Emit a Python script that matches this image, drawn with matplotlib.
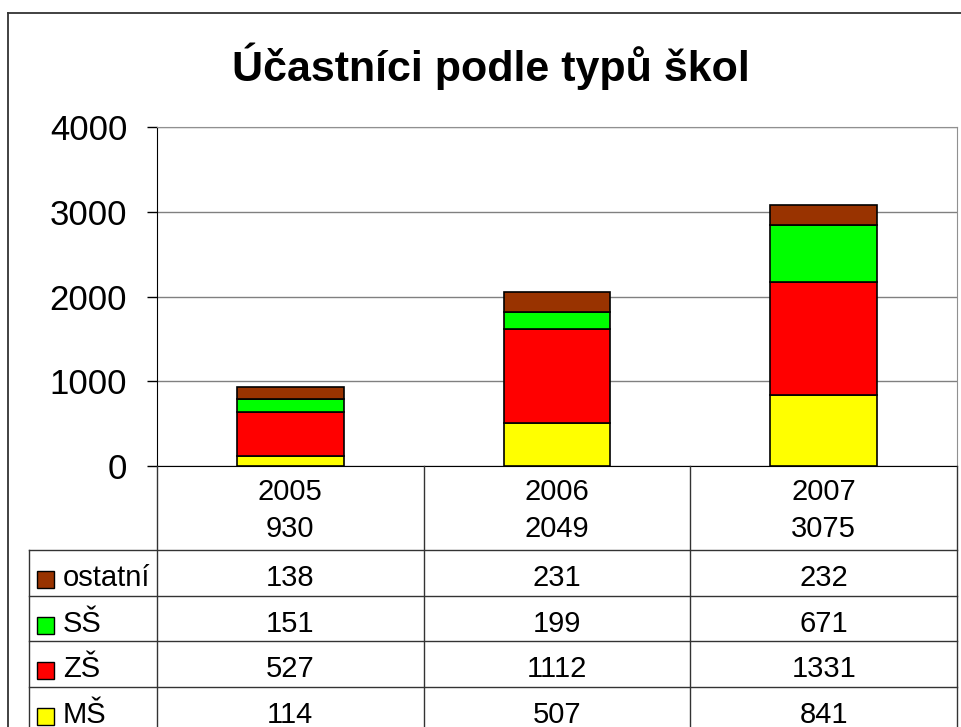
import numpy as np
import matplotlib.pyplot as plt
from matplotlib.patches import Rectangle

plt.rcParams['font.family'] = ['Liberation Sans', 'DejaVu Sans']

# data
years = ['2005', '2006', '2007']
series = ['ostatní', 'SŠ', 'ZŠ', 'MŠ']
ostatni = [138, 231, 232]
ss = [151, 199, 671]
zs = [527, 1112, 1331]
ms = [114, 507, 841]
colors = {'ostatní': '#993300', 'SŠ': '#00ff00', 'ZŠ': '#ff0000', 'MŠ': '#ffff00'}
values = {'ostatní': ostatni, 'SŠ': ss, 'ZŠ': zs, 'MŠ': ms}
totals = np.sum([ostatni, ss, zs, ms], axis=0)

W, H = 961, 727
fig = plt.figure(figsize=(W / 100, H / 100), dpi=100)

# plot area in pixels
left, right, top, bottom = 157, 957, 127, 466

ax = fig.add_axes([left / W, 1 - bottom / H, (right - left) / W, (bottom - top) / H])
x = np.arange(len(years))
base = np.zeros(len(years))
for name in ['MŠ', 'ZŠ', 'SŠ', 'ostatní']:
    ax.bar(x, values[name], 0.4, bottom=base, color=colors[name],
           edgecolor='black', linewidth=1.2, zorder=3)
    base += values[name]

ax.set_xlim(-0.5, len(years) - 0.5)
ax.set_ylim(0, 4000)
ax.set_yticks(np.arange(0, 4001, 1000))
ax.set_xticks([])
ax.grid(axis='y', color='#808080', linewidth=1)
ax.set_axisbelow(True)
ax.tick_params(axis='y', direction='out', length=7.5, width=1, labelsize=25, pad=14)
for s in ['top', 'right']:
    ax.spines[s].set_color('#909090')
for s in ['left', 'bottom']:
    ax.spines[s].set_color('black')

# overlay in pixel coordinates for frame, title and data table
ov = fig.add_axes([0, 0, 1, 1], facecolor='none')
ov.set_xlim(0, W)
ov.set_ylim(H, 0)
ov.set_axis_off()

lc = '#333333'
ov.plot([8, W], [13, 13], color=lc, lw=1.3)
ov.plot([8, 8], [13, H], color=lc, lw=1.3)

ov.text(491, 81, 'Účastníci podle typů škol', fontsize=31, fontweight='bold',
        ha='center', va='baseline')

# table
col_w = (right - left) / len(years)
col_edges = [left + i * col_w for i in range(len(years) + 1)]
col_mid = [left + (i + 0.5) * col_w for i in range(len(years))]
head_bottom = 550
row_h = 45.7
lab_left = 29
fs = 21

for xe in col_edges:
    ov.plot([xe, xe], [bottom, H + 10], color=lc, lw=1)
ov.plot([lab_left, lab_left], [head_bottom, H + 10], color=lc, lw=1)
for i in range(len(series)):
    yl = head_bottom + i * row_h
    ov.plot([lab_left, right], [yl, yl], color=lc, lw=1)

for j, yr in enumerate(years):
    ov.text(col_mid[j], 500, yr, fontsize=fs, ha='center', va='baseline')
    ov.text(col_mid[j], 537, str(totals[j]), fontsize=fs, ha='center', va='baseline')

for i, name in enumerate(series):
    yt = head_bottom + i * row_h
    ov.add_patch(Rectangle((37, yt + 21), 17, 17, facecolor=colors[name],
                           edgecolor='black', lw=1))
    ov.text(63, yt + 36, name, fontsize=fs, ha='left', va='baseline')
    for j in range(len(years)):
        ov.text(col_mid[j], yt + 36, str(values[name][j]), fontsize=fs,
                ha='center', va='baseline')

fig.savefig('out.png', dpi=100)
